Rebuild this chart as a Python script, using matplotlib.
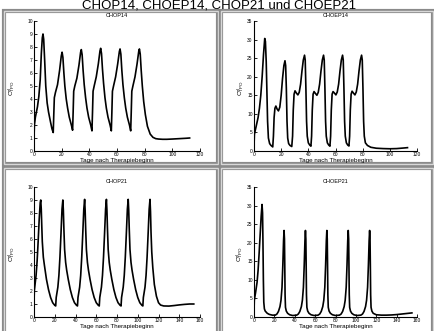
import matplotlib
matplotlib.use("Agg")
import matplotlib.pyplot as plt
from matplotlib.patches import Rectangle

plt.rcParams['font.family'] = ['Liberation Sans', 'DejaVu Sans']
plt.rcParams['mathtext.fontset'] = 'custom'
plt.rcParams['mathtext.rm'] = 'Liberation Sans'
plt.rcParams['mathtext.it'] = 'Liberation Sans'

suptitle = "CHOP14, CHOEP14, CHOP21 und CHOEP21"
titles = ["CHOP14", "CHOEP14", "CHOP21", "CHOEP21"]
xlabel = "Tage nach Therapiebeginn"
ylabel = r"$\mathrm{C^{el}_{TPO}}$"

# ---- CHOP14 ----
t_chop14 = [0, 0.3, 1, 2.5, 3.5, 4.5, 5.3, 6, 6.5, 7, 7.7, 8.5, 9.5, 10.5, 12, 13, 13.9,
            14.3, 14.7, 15.5, 17, 18.5, 19.7, 20.3, 20.9, 21.6, 22.3, 23.3, 24.3, 25.5, 27, 27.9,
            28.3, 28.7, 29.5, 31, 32.5, 33.7, 34.2, 34.8, 35.5, 36.3, 37.3, 38.3, 39.5, 41, 41.9,
            42.3, 42.7, 43.5, 45, 46.5, 47.7, 48.2, 48.8, 49.5, 50.3, 51.3, 52.3, 53.5, 55, 55.9,
            56.3, 56.7, 57.5, 59, 60.5, 61.7, 62.2, 62.8, 63.5, 64.3, 65.3, 66.3, 67.5, 69, 69.9,
            70.3, 70.7, 71.5, 73, 74.5, 75.7, 76.2, 76.8, 77.5, 78.3, 79.3, 80.5, 82, 84, 86, 88,
            90, 93, 96, 100, 105, 110, 112.5]
v_chop14 = [1.0, 2.0, 2.6, 3.4, 4.2, 5.5, 7.5, 8.7, 9.0, 8.6, 7.0, 5.0, 3.7, 3.0, 2.2, 1.7, 1.42,
            2.8, 4.1, 4.5, 5.1, 6.2, 7.3, 7.6, 7.2, 6.0, 5.0, 4.0, 3.3, 2.6, 2.0, 1.6,
            3.0, 4.6, 5.0, 5.6, 6.6, 7.6, 7.8, 7.4, 6.2, 5.1, 4.1, 3.3, 2.6, 2.0, 1.55,
            3.0, 4.6, 5.0, 5.7, 6.7, 7.7, 7.9, 7.5, 6.3, 5.2, 4.1, 3.3, 2.6, 2.0, 1.55,
            3.0, 4.6, 5.0, 5.7, 6.7, 7.65, 7.85, 7.45, 6.2, 5.1, 4.1, 3.3, 2.6, 2.0, 1.55,
            3.0, 4.6, 5.0, 5.7, 6.7, 7.65, 7.85, 7.45, 6.2, 5.0, 3.8, 2.8, 1.9, 1.3, 1.05, 0.95,
            0.92, 0.9, 0.9, 0.92, 0.95, 0.98, 1.0]

# ---- CHOEP14 ----
t_choep14 = [0, 0.3, 1.5, 3, 4, 5, 6, 7, 7.9, 8.4, 9, 9.5, 10, 10.6, 11.5, 12.5, 13.8,
             14.3, 14.8, 15.4, 16.1, 17, 18, 19, 20, 21, 22, 22.8, 23.3, 23.8, 24.3, 24.8, 25.5, 26.5, 27.8,
             28.4, 28.9, 29.5, 30.2, 31.2, 32.3, 33.3, 34.3, 35.3, 36.3, 37.2, 37.7, 38.2, 38.7, 39.2, 40, 41, 41.9,
             42.4, 42.9, 43.5, 44.2, 45.2, 46.3, 47.3, 48.3, 49.3, 50.3, 51.2, 51.7, 52.2, 52.7, 53.2, 54, 55, 55.9,
             56.4, 56.9, 57.5, 58.2, 59.2, 60.3, 61.3, 62.3, 63.3, 64.3, 65.2, 65.7, 66.2, 66.7, 67.2, 68, 69, 69.9,
             70.4, 70.9, 71.5, 72.2, 73.2, 74.3, 75.3, 76.3, 77.3, 78.3, 79.2, 79.7, 80.2, 80.7, 81.2, 82, 83.5,
             86, 90, 95, 100, 105, 110, 113]
v_choep14 = [1.2, 4.5, 6.5, 9.0, 11.5, 15.0, 20.0, 26.0, 30.3, 29.5, 24.0, 16.0, 8.0, 3.5, 2.0, 1.5, 1.1,
             4.0, 9.0, 11.5, 12.1, 11.3, 10.8, 11.8, 15.0, 19.5, 23.0, 24.3, 23.0, 17.0, 8.0, 3.5, 2.0, 1.5, 1.2,
             4.0, 11.0, 15.3, 16.2, 15.6, 15.1, 15.8, 18.0, 21.5, 24.5, 25.8, 24.5, 17.0, 8.0, 4.0, 2.2, 1.6, 1.3,
             4.0, 11.0, 15.3, 16.0, 15.5, 15.0, 15.8, 18.0, 21.5, 24.5, 25.8, 24.5, 17.0, 8.0, 4.0, 2.2, 1.6, 1.3,
             4.0, 11.0, 15.3, 16.0, 15.6, 15.1, 15.9, 18.0, 21.5, 24.5, 25.8, 24.5, 17.0, 8.0, 4.0, 2.2, 1.6, 1.35,
             4.0, 11.0, 15.3, 16.1, 15.6, 15.1, 15.9, 18.0, 21.5, 24.5, 25.8, 24.5, 17.0, 8.0, 4.0, 2.2, 1.5,
             1.0, 0.75, 0.65, 0.6, 0.65, 0.8, 0.9]

# ---- CHOP21 ----
t_chop21 = [0, 0.3, 1, 2, 3, 4, 5, 6, 6.5, 7, 7.5, 8, 9, 10, 12, 14, 16, 18, 20, 20.9,
            21.4, 22, 23, 24, 25, 26, 27, 27.8, 28.3, 28.8, 29.5, 30.5, 31.5, 33, 35, 37, 39, 41, 41.9,
            42.4, 43, 44, 45, 46, 47, 48, 48.8, 49.3, 49.8, 50.5, 51.5, 52.5, 54, 56, 58, 60, 62, 62.9,
            63.4, 64, 65, 66, 67, 68, 69, 69.8, 70.3, 70.8, 71.5, 72.5, 73.5, 75, 77, 79, 81, 83, 83.9,
            84.4, 85, 86, 87, 88, 89, 90, 90.8, 91.3, 91.8, 92.5, 93.5, 94.5, 96, 98, 100, 102, 104, 104.9,
            105.4, 106, 107, 108, 109, 110, 111, 111.8, 112.3, 112.8, 113.5, 114.5, 116, 118, 120, 122,
            125, 130, 135, 140, 145, 150, 154]
v_chop21 = [1.0, 2.0, 2.5, 3.2, 4.3, 5.8, 7.5, 8.8, 9.0, 8.3, 7.0, 5.8, 4.6, 4.0, 2.9, 2.1, 1.5, 1.1, 0.9, 0.85,
            1.5, 1.8, 2.3, 3.2, 4.6, 6.4, 8.3, 9.0, 8.2, 6.8, 5.2, 4.2, 3.6, 2.9, 2.1, 1.5, 1.1, 0.9, 0.85,
            1.5, 1.8, 2.3, 3.2, 4.6, 6.4, 8.3, 9.05, 8.2, 6.8, 5.2, 4.2, 3.6, 2.9, 2.1, 1.5, 1.1, 0.9, 0.85,
            1.5, 1.8, 2.3, 3.2, 4.6, 6.4, 8.3, 9.05, 8.2, 6.8, 5.2, 4.2, 3.6, 2.9, 2.1, 1.5, 1.1, 0.9, 0.85,
            1.5, 1.8, 2.3, 3.2, 4.6, 6.4, 8.3, 9.05, 8.2, 6.8, 5.2, 4.2, 3.6, 2.9, 2.1, 1.5, 1.1, 0.9, 0.85,
            1.5, 1.8, 2.3, 3.2, 4.6, 6.4, 8.3, 9.05, 8.1, 6.5, 5.0, 3.8, 2.5, 1.6, 1.1, 0.92,
            0.85, 0.84, 0.88, 0.93, 0.97, 1.0, 1.0]

# ---- CHOEP21 ----
t_choep21 = [0, 0.3, 1.5, 3, 4, 5, 6, 7, 7.9, 8.4, 8.8, 9.2, 9.6, 10.2, 11, 13, 15, 18, 20.9,
             22.5, 24, 25.5, 26.5, 27.5, 28.3, 29, 29.5, 29.9, 30.2, 30.5, 30.9, 31.7, 33, 35, 38, 41.9,
             43.5, 45, 46.5, 47.5, 48.5, 49.3, 50, 50.5, 50.9, 51.2, 51.5, 51.9, 52.7, 54, 56, 59, 62.9,
             64.5, 66, 67.5, 68.5, 69.5, 70.3, 71, 71.5, 71.9, 72.2, 72.5, 72.9, 73.7, 75, 77, 80, 83.9,
             85.5, 87, 88.5, 89.5, 90.5, 91.3, 92, 92.5, 92.9, 93.2, 93.5, 93.9, 94.7, 96, 98, 101, 104.9,
             106.5, 108, 109.5, 110.5, 111.5, 112.3, 113, 113.5, 113.9, 114.2, 114.5, 114.9, 115.7, 117,
             120, 125, 130, 135, 140, 145, 150, 155]
v_choep21 = [1.2, 4.5, 6.5, 9.3, 12.5, 17.0, 22.0, 27.0, 30.3, 28.0, 20.0, 10.0, 4.0, 2.2, 1.6, 1.0, 0.7, 0.5, 0.5,
             0.8, 1.5, 2.8, 4.5, 8.0, 14.0, 20.5, 23.3, 21.0, 14.0, 6.0, 2.6, 1.6, 1.0, 0.6, 0.4, 0.5,
             0.8, 1.5, 2.8, 4.5, 8.0, 14.0, 20.5, 23.3, 21.0, 14.0, 6.0, 2.6, 1.6, 1.0, 0.6, 0.4, 0.5,
             0.8, 1.5, 2.8, 4.5, 8.0, 14.0, 20.5, 23.3, 21.0, 14.0, 6.0, 2.6, 1.6, 1.0, 0.6, 0.4, 0.5,
             0.8, 1.5, 2.8, 4.5, 8.0, 14.0, 20.5, 23.3, 21.0, 14.0, 6.0, 2.6, 1.6, 1.0, 0.6, 0.4, 0.5,
             0.8, 1.5, 2.8, 4.5, 8.0, 14.0, 20.5, 23.3, 21.0, 14.0, 6.0, 2.6, 1.6, 1.0,
             0.6, 0.5, 0.5, 0.55, 0.65, 0.8, 0.95, 1.1]

series = [(t_chop14, v_chop14), (t_choep14, v_choep14), (t_chop21, v_chop21), (t_choep21, v_choep21)]
xmax = [120, 120, 160, 160]
ymax = [10, 35, 10, 35]
xticks = [list(range(0, 121, 20)), list(range(0, 121, 20)), list(range(0, 161, 20)), list(range(0, 161, 20))]
yticks = [list(range(0, 11, 1)), list(range(0, 36, 5)), list(range(0, 11, 1)), list(range(0, 36, 5))]

W, H = 434, 331
fig = plt.figure(figsize=(W / 100, H / 100), dpi=100)

def fx(px):
    return px / W

def fy(py):
    return 1 - py / H

# panel frames (pixel boxes: x0, y0, x1, y1)
frames = [(4, 11, 218, 164), (221, 11, 433, 164), (4, 168, 218, 334), (221, 168, 433, 334)]
for (x0, y0, x1, y1) in frames:
    for lw, col in [(3.0, '#8a8a8a'), (1.0, '#d8d8d8')]:
        fig.patches.append(Rectangle((fx(x0), fy(y1)), fx(x1 - x0), (y1 - y0) / H,
                                     transform=fig.transFigure, fill=False,
                                     edgecolor=col, linewidth=lw, zorder=-5))

# axes boxes (pixel: left, top, right, bottom)
axboxes = [(34, 21, 200, 151), (254, 21, 417, 151), (34, 187, 200, 317), (254, 187, 417, 317)]
ylab_x = [-0.10, -0.05, -0.10, -0.055]

for i, (l, t, r, b) in enumerate(axboxes):
    ax = fig.add_axes([fx(l), fy(b), fx(r - l), (b - t) / H])
    tt, vv = series[i]
    ax.plot(tt, vv, color='black', linewidth=1.2, solid_joinstyle='round')
    ax.set_xlim(0, xmax[i])
    ax.set_ylim(0, ymax[i])
    ax.set_xticks(xticks[i])
    ax.set_yticks(yticks[i])
    ax.spines['top'].set_visible(False)
    ax.spines['right'].set_visible(False)
    for s in ('left', 'bottom'):
        ax.spines[s].set_linewidth(0.8)
    ax.tick_params(direction='in', length=2, width=0.6, labelsize=3.5, pad=1.0)
    ax.set_title(titles[i], fontsize=4, pad=3)
    ax.set_xlabel(xlabel, fontsize=4.5, labelpad=0.2)
    ax.set_ylabel(ylabel, fontsize=4.5)
    ax.yaxis.set_label_coords(ylab_x[i], 0.48)
    ax.patch.set_alpha(0)

fig.text(0.505, fy(8), suptitle, ha='center', va='baseline', fontsize=9.5)

fig.savefig("out.png", dpi=100)
